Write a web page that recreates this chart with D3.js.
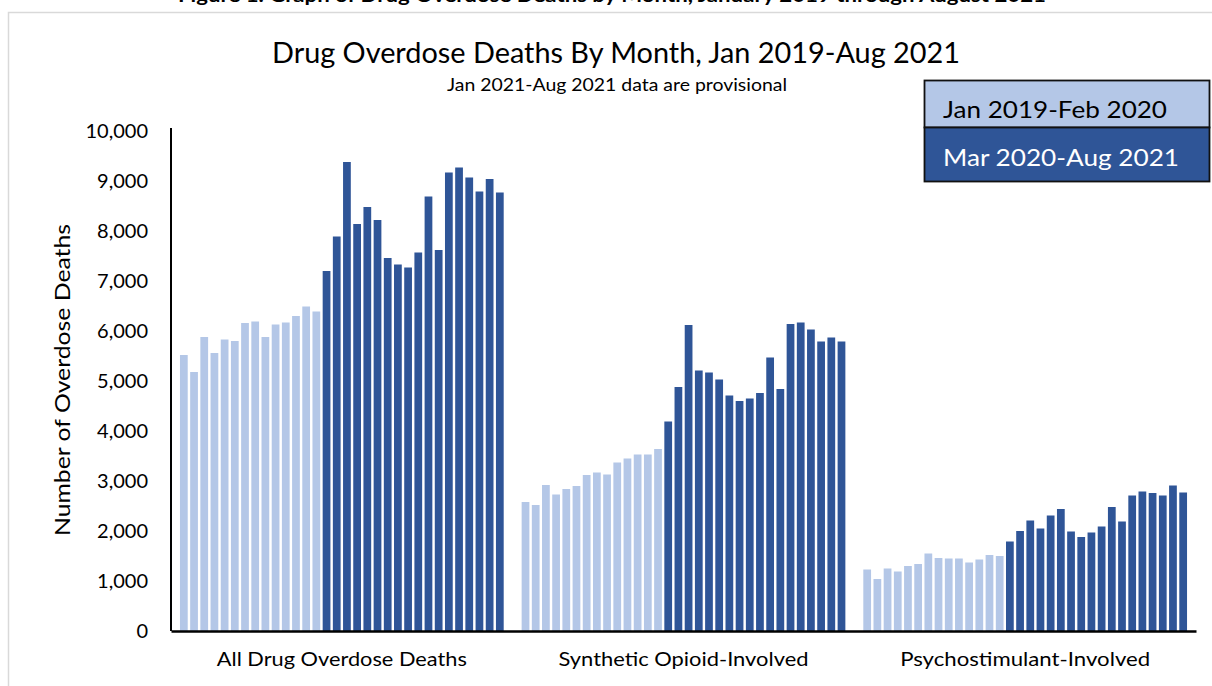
<!DOCTYPE html>
<html>
<head>
<meta charset="utf-8">
<script src="https://cdn.jsdelivr.net/npm/d3@7"></script>
<style>
  body { margin: 0; background: #fff; }
  svg { display: block; font-family: Lato, "Noto Sans", sans-serif; }
</style>
</head>
<body>
<script>
// chart data
var categories = ["All Drug Overdose Deaths", "Synthetic Opioid-Involved", "Psychostimulant-Involved"];

var months = ["Jan 2019","Feb 2019","Mar 2019","Apr 2019","May 2019","Jun 2019","Jul 2019","Aug 2019",
              "Sep 2019","Oct 2019","Nov 2019","Dec 2019","Jan 2020","Feb 2020",
              "Mar 2020","Apr 2020","May 2020","Jun 2020","Jul 2020","Aug 2020","Sep 2020","Oct 2020",
              "Nov 2020","Dec 2020","Jan 2021","Feb 2021","Mar 2021","Apr 2021","May 2021","Jun 2021",
              "Jul 2021","Aug 2021"];

var allDrug = [5520,5180,5880,5560,5830,5800,6160,6190,5880,6130,6170,6300,6490,6390,
               7200,7890,9380,8140,8480,8220,7460,7330,7270,7570,8690,7620,9170,9270,9070,8790,9040,8770];
var synthOpioid = [2580,2520,2920,2730,2840,2900,3120,3170,3130,3370,3450,3530,3530,3640,
                   4190,4880,6120,5210,5170,5030,4710,4600,4650,4760,5470,4840,6140,6170,6030,5790,5870,5790];
var psychostim = [1230,1040,1250,1190,1300,1340,1550,1460,1450,1450,1370,1430,1520,1500,
                  1790,2000,2210,2050,2310,2440,1990,1880,1970,2090,2480,2190,2710,2790,2760,2710,2910,2770];

var periods = ["Jan 2019-Feb 2020", "Mar 2020-Aug 2021"];
var yTicks = [0,1000,2000,3000,4000,5000,6000,7000,8000,9000,10000];

var lightBlue = "#b4c7e7",
    darkBlue = "#2f5597";

var width = 1212,
    height = 686;

var svg = d3.select("body")
    .append("svg")
    .attr("width", width)
    .attr("height", height);

// outer chart frame (only top and left edge show in the picture)
svg.append("path")
    .attr("d", "M8.5,700 V12.5 H1212")
    .attr("fill", "none")
    .attr("stroke", "#d9d9d9")
    .attr("stroke-width", 1.5);

// figure caption, cut off at the top
svg.append("text")
    .attr("x", 612)
    .attr("y", 2)
    .attr("text-anchor", "middle")
    .attr("font-weight", "bold")
    .attr("font-size", 18)
    .attr("textLength", 868)
    .attr("lengthAdjust", "spacingAndGlyphs")
    .text("Figure 1. Graph of Drug Overdose Deaths by Month, January 2019 through August 2021");

// titles
svg.append("text")
    .attr("x", 616)
    .attr("y", 63)
    .attr("text-anchor", "middle")
    .attr("font-size", 29)
    .attr("textLength", 688)
    .attr("lengthAdjust", "spacingAndGlyphs")
    .attr("fill", "#000")
    .text("Drug Overdose Deaths By Month, Jan 2019-Aug 2021");

svg.append("text")
    .attr("x", 617)
    .attr("y", 91)
    .attr("text-anchor", "middle")
    .attr("font-size", 17)
    .attr("textLength", 340)
    .attr("lengthAdjust", "spacingAndGlyphs")
    .text("Jan 2021-Aug 2021 data are provisional");

// scales
var x0 = d3.scaleBand()
    .domain(categories)
    .range([171, 1196]);

var x1 = d3.scaleBand()
    .domain(months)
    .range([0, x0.bandwidth()])
    .paddingInner(0.24)
    .paddingOuter(0.88);

var y = d3.scaleLinear()
    .domain([0, 10000])
    .range([631, 131]);

// bars
var series = [allDrug, synthOpioid, psychostim];
var rows = [];
categories.forEach(function(c, i){
    months.forEach(function(m, j){
        rows.push({cat: c, month: m, value: series[i][j], period: j < 14 ? 0 : 1});
    });
});

svg.append("g")
    .selectAll("rect")
    .data(rows)
    .enter()
    .append("rect")
    .attr("x", function(d){ return x0(d.cat) + x1(d.month); })
    .attr("y", function(d){ return y(d.value); })
    .attr("width", x1.bandwidth())
    .attr("height", function(d){ return y(0) - y(d.value); })
    .attr("fill", function(d){ return d.period == 0 ? lightBlue : darkBlue; });

// y axis
var yAxis = svg.append("g")
    .attr("transform", "translate(171,0)")
    .call(d3.axisLeft(y).tickValues(yTicks).tickSize(0).tickPadding(23).tickFormat(d3.format(",")));
yAxis.select(".domain")
    .attr("stroke", "#000")
    .attr("stroke-width", 2)
    .attr("d", "M0,128V631");
yAxis.selectAll("text")
    .attr("font-family", "Lato, sans-serif")
    .attr("font-size", 20)
    .attr("fill", "#000");

svg.append("text")
    .attr("transform", "translate(70,380) rotate(-90)")
    .attr("text-anchor", "middle")
    .attr("font-size", 21)
    .attr("textLength", 312)
    .attr("lengthAdjust", "spacingAndGlyphs")
    .text("Number of Overdose Deaths");

// x axis
var xAxis = svg.append("g")
    .attr("transform", "translate(0,631)")
    .call(d3.axisBottom(x0).tickSize(0).tickPadding(22));
xAxis.select(".domain")
    .attr("stroke", "#000")
    .attr("stroke-width", 2.5);
xAxis.selectAll("text")
    .attr("font-family", "Lato, sans-serif")
    .attr("font-size", 19)
    .attr("fill", "#000")
    .attr("textLength", 250)
    .attr("lengthAdjust", "spacingAndGlyphs");

// legend
var legend = svg.append("g")
    .selectAll("g")
    .data(periods)
    .enter()
    .append("g");

legend.append("rect")
    .attr("x", 924.5)
    .attr("y", function(d, i){ return i == 0 ? 80.5 : 127.5; })
    .attr("width", 285)
    .attr("height", function(d, i){ return i == 0 ? 47 : 54; })
    .attr("fill", function(d, i){ return i == 0 ? lightBlue : darkBlue; })
    .attr("stroke", "#111")
    .attr("stroke-width", 1.8);

legend.append("text")
    .attr("x", 943)
    .attr("y", function(d, i){ return i == 0 ? 118 : 166; })
    .attr("font-size", 23)
    .attr("fill", function(d, i){ return i == 0 ? "#000" : "#fff"; })
    .attr("textLength", function(d, i){ return i == 0 ? 224 : 236; })
    .attr("lengthAdjust", "spacingAndGlyphs")
    .text(function(d){ return d; });
</script>
</body>
</html>
